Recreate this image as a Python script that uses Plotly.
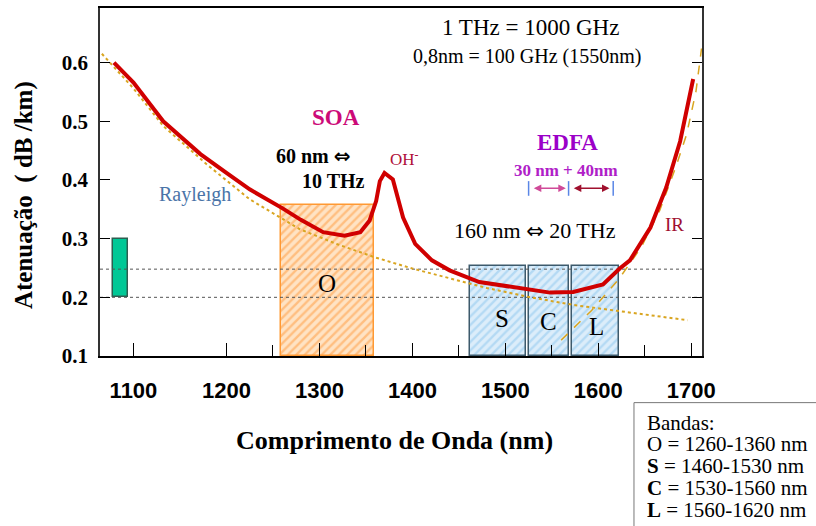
import plotly.graph_objects as go

# ---------------- data ----------------
wl_total = [1079, 1100, 1132, 1172, 1200, 1225, 1260, 1280, 1304, 1327, 1344, 1354, 1361, 1365,
            1370, 1379, 1390, 1403, 1421, 1440, 1472, 1524, 1548, 1573, 1605, 1623, 1634, 1656,
            1673, 1688, 1698, 1702]
att_total = [0.600, 0.566, 0.500, 0.444, 0.412, 0.384, 0.352, 0.332, 0.311, 0.305, 0.311, 0.331,
             0.364, 0.398, 0.412, 0.401, 0.336, 0.291, 0.263, 0.246, 0.226, 0.214, 0.208, 0.209,
             0.222, 0.249, 0.263, 0.319, 0.387, 0.466, 0.540, 0.572]

wl_rayleigh = [1066, 1100, 1132, 1180, 1225, 1261, 1279, 1320, 1360, 1400, 1440, 1480, 1524,
               1573, 1620, 1660, 1696]
att_rayleigh = [0.615, 0.556, 0.492, 0.425, 0.367, 0.333, 0.316, 0.290, 0.268, 0.249, 0.232,
                0.216, 0.201, 0.187, 0.177, 0.169, 0.161]

wl_ir = [1560, 1593, 1622, 1646, 1666, 1684, 1695, 1705, 1711]
att_ir = [0.127, 0.178, 0.231, 0.285, 0.348, 0.425, 0.478, 0.551, 0.624]

ref_levels = [0.2, 0.248]

band_names = ["O", "S", "C", "L"]
band_start = [1259, 1462, 1525, 1572]
band_end = [1359, 1522, 1568, 1622]
band_top = [0.357, 0.253, 0.254, 0.253]

green_start, green_end = 1078, 1094
green_low, green_high = 0.2, 0.3

edfa_marks = [1525, 1568, 1616]

x_ticks = [1100, 1200, 1300, 1400, 1500, 1600, 1700]
x_minor = [1250, 1350, 1450, 1550, 1650]
y_ticks = [0.1, 0.2, 0.3, 0.4, 0.5, 0.6]

legend_lines = ["Bandas:",
                "O = 1260-1360 nm",
                "<b>S</b> = 1460-1530 nm",
                "<b>C</b> = 1530-1560 nm",
                "<b>L</b> = 1560-1620 nm"]

X_RANGE = [1064, 1711.5]
Y_RANGE = [0.1, 0.693]

SERIF = "Liberation Serif"
SANS = "Liberation Sans"
ARROW = '<span style="font-family:DejaVu Sans;font-size:{}px">⇔</span>'

fig = go.Figure()

# reference dotted horizontal lines
for lv in ref_levels:
    fig.add_trace(go.Scatter(x=X_RANGE, y=[lv, lv], mode="lines",
                             line=dict(color="#555555", width=1, dash="dot"),
                             hoverinfo="skip"))

# band boxes
for name, s, e, top in zip(band_names, band_start, band_end, band_top):
    if name == "O":
        fg, bg, lc = "#ff9a3c", "#ffe3c4", "#ff9933"
    else:
        fg, bg, lc = "#8cc6ee", "#dcedfa", "#3d5a6c"
    fig.add_trace(go.Bar(x=[(s + e) / 2], y=[top - Y_RANGE[0]], base=Y_RANGE[0], width=[e - s],
                         marker=dict(color=bg, line=dict(color=lc, width=1.5),
                                     pattern=dict(shape="/", fgcolor=fg, bgcolor=bg,
                                                  size=6, solidity=0.4)),
                         hoverinfo="skip"))

# green marker box
fig.add_trace(go.Bar(x=[(green_start + green_end) / 2], y=[green_high - green_low], base=green_low,
                     width=[green_end - green_start],
                     marker=dict(color="#00c896", line=dict(color="#2d5e50", width=1.5)),
                     hoverinfo="skip"))

# Rayleigh scattering (dotted)
fig.add_trace(go.Scatter(x=wl_rayleigh, y=att_rayleigh, mode="lines",
                         line=dict(color="#d9a520", width=2, dash="dot"), hoverinfo="skip"))
# IR absorption (dashed)
fig.add_trace(go.Scatter(x=wl_ir, y=att_ir, mode="lines",
                         line=dict(color="#d9a520", width=1.5, dash="dash"), hoverinfo="skip"))
# total attenuation
fig.add_trace(go.Scatter(x=wl_total, y=att_total, mode="lines",
                         line=dict(color="#d00000", width=4), hoverinfo="skip"))

# EDFA band markers
mx, my = [], []
for m in edfa_marks:
    mx += [m, m, None]
    my += [0.373, 0.398, None]
fig.add_trace(go.Scatter(x=mx, y=my, mode="lines", line=dict(color="#5a86e6", width=1.5),
                         hoverinfo="skip"))

ann = []


def txt(x, y, text, size, color="black", bold=False, family=SERIF, **kw):
    d = dict(x=x, y=y, xref="x", yref="y", text=text, showarrow=False,
             font=dict(family=family, size=size, color=color, weight="bold" if bold else "normal"))
    d.update(kw)
    ann.append(d)


txt(1527, 0.659, "1 THz = 1000 GHz", 23)
txt(1523, 0.610, "0,8nm = 100 GHz (1550nm)", 20)
txt(1318, 0.507, "SOA", 23, color="#cc0a78", bold=True)
txt(1294, 0.441, "60 nm " + ARROW.format(20), 20, bold=True)
txt(1315, 0.398, "10 THz", 20, bold=True)
txt(1392, 0.438, "OH<sup>-</sup>", 17, color="#b0103a")
txt(1166, 0.376, "Rayleigh", 20, color="#4a74a8")
txt(1567, 0.463, "EDFA", 23, color="#9b00c8", bold=True)
txt(1565, 0.416, "30 nm + 40nm", 17, color="#b01ec8", bold=True)
txt(1532, 0.314, "160 nm " + ARROW.format(21) + " 20 THz", 22)
txt(1682, 0.324, "IR", 19, color="#a01030")
txt(1308, 0.224, "O", 25)
txt(1496, 0.164, "S", 25)
txt(1546, 0.158, "C", 25)
txt(1598, 0.151, "L", 25)

# double arrows
for x0, x1, col in [(1529, 1565, "#d04a98"), (1572, 1612, "#a0102e")]:
    ann.append(dict(x=x1, y=0.386, ax=x0, ay=0.386, xref="x", yref="y", axref="x", ayref="y",
                    text="", showarrow=True, arrowhead=2, arrowside="end+start",
                    arrowsize=1, arrowwidth=1.5, arrowcolor=col))

# axis titles
ann.append(dict(x=-0.126, y=0.463, xref="paper", yref="paper", text="Atenuação&nbsp; ( dB /km)",
                textangle=-90, showarrow=False, xanchor="center", yanchor="middle",
                font=dict(family=SERIF, size=25, color="black", weight="bold")))
ann.append(dict(x=0.49, y=-0.243, xref="paper", yref="paper", text="Comprimento de Onda (nm)",
                showarrow=False, xanchor="center", yanchor="middle",
                font=dict(family=SERIF, size=26, color="black", weight="bold")))

# band legend box text
legend_y_px = [423, 445, 467, 489, 511]
for line, py in zip(legend_lines, legend_y_px):
    ann.append(dict(x=0.905, y=(356 - py) / 350, xref="paper", yref="paper", text=line,
                    xanchor="left", yanchor="middle", showarrow=False,
                    font=dict(family=SERIF, size=21, color="black")))

fig.update_layout(
    width=816, height=526,
    margin=dict(l=100, r=114, t=6, b=170),
    paper_bgcolor="white", plot_bgcolor="white",
    showlegend=False, barmode="overlay", bargap=0,
    annotations=ann,
    shapes=[dict(type="rect", xref="paper", yref="paper", x0=0.887, x1=1.25,
                 y0=-0.6, y1=-0.134, line=dict(color="#777777", width=1), layer="above")],
    xaxis=dict(range=X_RANGE, tickvals=x_ticks, ticks="inside", ticklen=13, tickwidth=1.2,
               tickcolor="black", showline=True, linecolor="black", linewidth=1.5,
               mirror=True, showgrid=False, zeroline=False, ticklabelstandoff=14,
               tickfont=dict(family=SANS, size=22, color="black", weight="bold"),
               minor=dict(tickvals=x_minor, ticks="inside", ticklen=11, tickcolor="black",
                          showgrid=False)),
    yaxis=dict(range=Y_RANGE, tickvals=y_ticks, ticktext=["0.1", "0.2", "0.3", "0.4", "0.5", "0.6"],
               ticks="inside", ticklen=10, tickwidth=1.2, tickcolor="black",
               showline=True, linecolor="#333333", linewidth=1.5, mirror="ticks",
               showgrid=False, zeroline=False, ticklabelstandoff=6,
               tickfont=dict(family=SERIF, size=21, color="black", weight="bold")),
)

fig.write_html("out.html")
